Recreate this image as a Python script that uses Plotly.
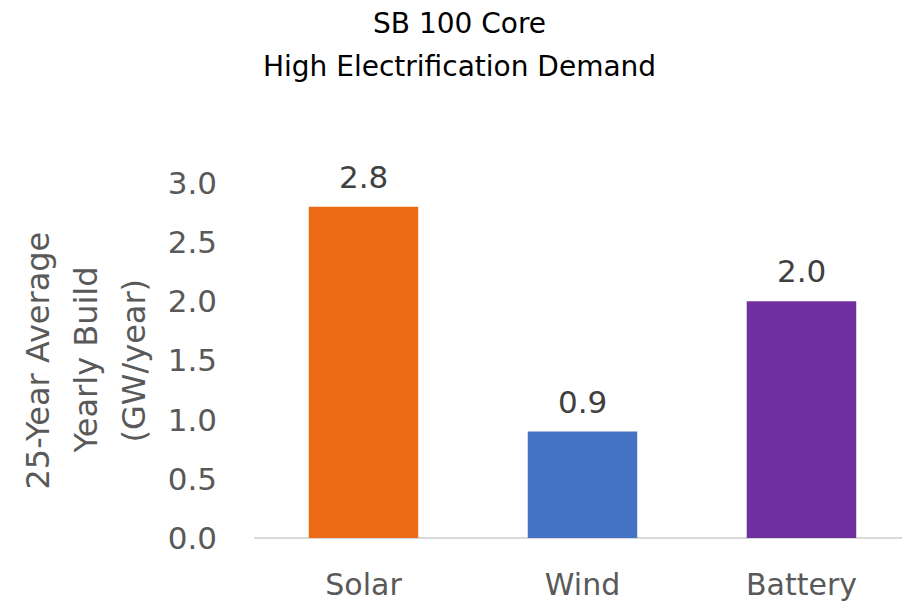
import plotly.graph_objects as go

categories = ["Solar", "Wind", "Battery"]
values = [2.8, 0.9, 2.0]
bar_colors = ["#EC6C16", "#4472C4", "#7030A0"]
tick_vals = [0.0, 0.5, 1.0, 1.5, 2.0, 2.5, 3.0]
tick_text = ["0.0", "0.5", "1.0", "1.5", "2.0", "2.5", "3.0"]
title_lines = ["SB 100 Core", "High Electrification Demand"]
ytitle_lines = ["25-Year Average", "Yearly Build", "(GW/year)"]

FONT = "DejaVu Sans"
GREY = "#595959"

# plot area in pixels: left 254, right 902, top 183, bottom 538
PL, PR, PT, PB = 254, 902, 183, 538


def px_x(p):
    return (p - PL) / (PR - PL)


def px_y(p):
    return (PB - p) / (PB - PT)


fig = go.Figure(
    go.Bar(
        x=categories,
        y=values,
        marker=dict(color=bar_colors, line=dict(width=0)),
        width=0.5,
        cliponaxis=False,
    )
)

annotations = []

# value labels above bars
for cat, v in zip(categories, values):
    annotations.append(
        dict(
            x=cat, y=v, xref="x", yref="y",
            text=f"{v:.1f}",
            showarrow=False,
            yanchor="bottom",
            yshift=10,
            font=dict(family=FONT, size=31, color="#404040"),
        )
    )

# two-line chart title
for text, cy in zip(title_lines, [24, 66]):
    annotations.append(
        dict(
            x=px_x(459), xref="paper", y=px_y(cy), yref="paper",
            text=text, showarrow=False,
            xanchor="center", yanchor="middle",
            font=dict(family=FONT, size=28, color="#000000"),
        )
    )

# three-line rotated y-axis title
for text, cx in zip(ytitle_lines, [37, 85, 133]):
    annotations.append(
        dict(
            x=px_x(cx), xref="paper", y=0.5, yref="paper",
            text=text, showarrow=False, textangle=-90,
            xanchor="center", yanchor="middle",
            font=dict(family=FONT, size=32, color=GREY),
        )
    )

fig.update_layout(
    width=902,
    height=607,
    margin=dict(l=PL, r=902 - PR, t=PT, b=607 - PB),
    paper_bgcolor="white",
    plot_bgcolor="white",
    showlegend=False,
    font=dict(family=FONT),
    xaxis=dict(
        range=[-0.5, 2.459],
        showgrid=False,
        showline=False,
        zeroline=False,
        ticks="",
        tickfont=dict(family=FONT, size=30, color=GREY),
        ticklabelstandoff=26,
    ),
    yaxis=dict(
        range=[0, 3.0],
        tickvals=tick_vals,
        ticktext=tick_text,
        showgrid=False,
        showline=False,
        zeroline=True,
        zerolinecolor="#D9D9D9",
        zerolinewidth=2,
        ticks="",
        tickfont=dict(family=FONT, size=31, color=GREY),
        ticklabelstandoff=36,
    ),
    annotations=annotations,
)

fig.write_html("out.html")
